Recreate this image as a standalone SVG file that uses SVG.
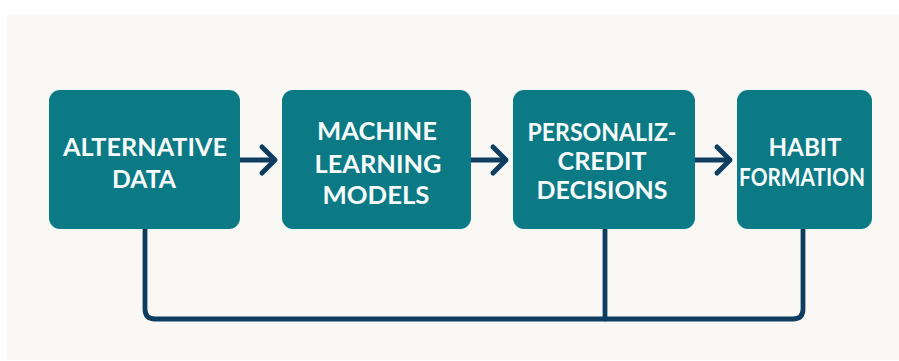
<svg xmlns="http://www.w3.org/2000/svg" width="899" height="361" viewBox="0 0 899 361">
  <defs>
    <style>
      .box { fill: #0b7a85; }
      .label { fill: #f7fbfb; font-family: Lato, "Open Sans", "DejaVu Sans", sans-serif; font-weight: 700; font-size: 25px; text-anchor: middle; }
      .wire { fill: none; stroke: #0e3d60; stroke-width: 4.8; stroke-linecap: round; stroke-linejoin: round; }
      .head { fill: none; stroke: #0e3d60; stroke-width: 5; stroke-linecap: round; stroke-linejoin: round; }
    </style>
  </defs>

  <!-- page -->
  <rect x="0" y="0" width="899" height="361" fill="#ffffff"/>
  <rect x="7" y="15" width="892" height="345" fill="#f9f8f5"/>

  <!-- connectors -->
  <g id="connectors">
    <!-- forward arrows -->
    <path class="wire" d="M240 160 H274"/>
    <path class="head" d="M262 147 L275 160 L262 173"/>
    <path class="wire" d="M471 160 H505"/>
    <path class="head" d="M493 147 L506 160 L493 173"/>
    <path class="wire" d="M695 160 H729"/>
    <path class="head" d="M717 147 L730 160 L717 173"/>
    <!-- feedback bus -->
    <path class="wire" d="M145 229 V309 Q145 319 155 319 H793 Q803 319 803 309 V229"/>
    <path class="wire" d="M605 229 V319"/>
  </g>

  <g id="node-alternative-data">
    <rect class="box" x="49" y="90" width="191" height="139" rx="11"/>
    <text class="label" x="145" y="156" textLength="164" lengthAdjust="spacingAndGlyphs">ALTERNATIVE</text>
    <text class="label" x="144" y="188" textLength="64" lengthAdjust="spacingAndGlyphs">DATA</text>
  </g>

  <g id="node-ml-models">
    <rect class="box" x="282" y="90" width="189" height="139" rx="11"/>
    <text class="label" x="377" y="140" textLength="120" lengthAdjust="spacingAndGlyphs">MACHINE</text>
    <text class="label" x="378" y="173" textLength="127" lengthAdjust="spacingAndGlyphs">LEARNING</text>
    <text class="label" x="376" y="204" textLength="107" lengthAdjust="spacingAndGlyphs">MODELS</text>
  </g>

  <g id="node-credit-decisions">
    <rect class="box" x="513" y="90" width="182" height="139" rx="11"/>
    <text class="label" x="602" y="141" textLength="149" lengthAdjust="spacingAndGlyphs">PERSONALIZ-</text>
    <text class="label" x="602" y="170" textLength="89" lengthAdjust="spacingAndGlyphs">CREDIT</text>
    <text class="label" x="602" y="199" textLength="131" lengthAdjust="spacingAndGlyphs">DECISIONS</text>
  </g>

  <g id="node-habit-formation">
    <rect class="box" x="737" y="90" width="135" height="139" rx="11"/>
    <text class="label" x="805" y="156" textLength="73" lengthAdjust="spacingAndGlyphs">HABIT</text>
    <text class="label" x="802" y="186" textLength="126" lengthAdjust="spacingAndGlyphs">FORMATION</text>
  </g>
</svg>
